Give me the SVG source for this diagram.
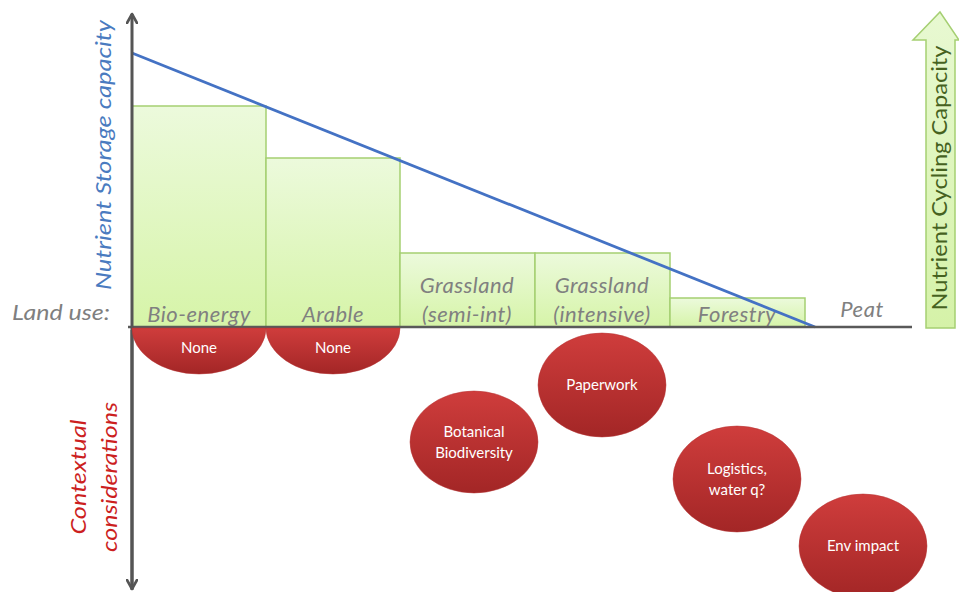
<svg xmlns="http://www.w3.org/2000/svg" width="959" height="592" viewBox="0 0 959 592">
<defs>
<linearGradient id="gg" x1="0" y1="0" x2="0" y2="1">
<stop offset="0" stop-color="#ecfadc"/>
<stop offset="1" stop-color="#d6f4a8"/>
</linearGradient>
<linearGradient id="rg" x1="0" y1="0" x2="0" y2="1">
<stop offset="0" stop-color="#cf3d3c"/>
<stop offset="1" stop-color="#a32626"/>
</linearGradient>
<linearGradient id="ag" x1="0" y1="0" x2="0" y2="1">
<stop offset="0" stop-color="#e8f9d2"/>
<stop offset="1" stop-color="#d5f2a8"/>
</linearGradient>
<marker id="ah" viewBox="0 0 12 12" refX="10" refY="6" markerWidth="12" markerHeight="12" markerUnits="userSpaceOnUse" orient="auto">
<path d="M1,1 L10,6 L1,11" fill="none" stroke="#555" stroke-width="2.6" stroke-linecap="round" stroke-linejoin="round"/>
</marker>
</defs>
<style>
.bar{fill:url(#gg);stroke:#a5cf72;stroke-width:1.5}
.red{fill:url(#rg);stroke:#b53030;stroke-width:0.5}
.lbl{font-family:Lato,"Open Sans",sans-serif;font-style:italic;font-size:22px;letter-spacing:0.5px;fill:#808080;text-anchor:middle}
.wt{font-family:Lato,"Open Sans",sans-serif;font-size:15px;fill:#ffffff;text-anchor:middle}
.ctx{font-family:Lato,"Open Sans",sans-serif;font-style:italic;font-size:21px;fill:#cc1f1f;text-anchor:middle}
</style>
<rect width="959" height="592" fill="#ffffff"/>

<g id="bars">
<g id="bio-energy"><rect class="bar" x="132" y="106" width="134" height="221"/><text class="lbl" x="199" y="322">Bio-energy</text></g>
<g id="arable"><rect class="bar" x="266" y="158" width="134" height="169"/><text class="lbl" x="333" y="322">Arable</text></g>
<g id="grassland-semi"><rect class="bar" x="400" y="253" width="135" height="74"/><text class="lbl" x="467" y="293">Grassland</text><text class="lbl" x="467" y="322">(semi-int)</text></g>
<g id="grassland-int"><rect class="bar" x="535" y="253" width="135" height="74"/><text class="lbl" x="602" y="293">Grassland</text><text class="lbl" x="602" y="322">(intensive)</text></g>
<g id="forestry"><rect class="bar" x="670" y="298" width="135" height="29"/><text class="lbl" x="737" y="322">Forestry</text></g>
<g id="peat"><text class="lbl" x="862" y="317">Peat</text></g>
</g>

<g id="connectors">
<line x1="132" y1="53" x2="815" y2="327" stroke="#4472c4" stroke-width="2.8"/>
<line x1="128" y1="327" x2="912" y2="327" stroke="#595959" stroke-width="2.5"/>
<line x1="132" y1="590" x2="132" y2="14" stroke="#555" stroke-width="3" marker-end="url(#ah)"/>
<line x1="132" y1="330" x2="132" y2="589" stroke="#555" stroke-width="3" marker-end="url(#ah)"/>
</g>

<g id="none-bio"><path class="red" d="M132,328 A67,46 0 0 0 266,328 Z"/><text class="wt" x="199" y="353" font-size="14">None</text></g>
<g id="none-arable"><path class="red" d="M266,328 A67,46 0 0 0 400,328 Z"/><text class="wt" x="333" y="353" font-size="14">None</text></g>

<g id="paperwork"><ellipse class="red" cx="602" cy="385" rx="64" ry="52"/><text class="wt" x="602" y="390">Paperwork</text></g>
<g id="botanical"><ellipse class="red" cx="474" cy="442" rx="64" ry="51"/><text class="wt" x="474" y="437">Botanical</text><text class="wt" x="474" y="458">Biodiversity</text></g>
<g id="logistics"><ellipse class="red" cx="737" cy="479" rx="64" ry="53"/><text class="wt" x="737" y="474">Logistics,</text><text class="wt" x="737" y="495">water q?</text></g>
<g id="env"><ellipse class="red" cx="863" cy="546" rx="64" ry="52"/><text class="wt" x="863" y="551">Env impact</text></g>

<g id="cycling-arrow">
<path d="M926,328 L955,328 L955,40 L959,40 L940,12 L913,40 L926,40 Z" fill="url(#ag)" stroke="#a5cf72" stroke-width="1.5"/>
<text transform="translate(947,178) rotate(-90)" font-family="Lato,'Open Sans',sans-serif" font-size="21" fill="#46621f" text-anchor="middle" textLength="265" lengthAdjust="spacingAndGlyphs">Nutrient Cycling Capacity</text>
</g>

<g id="axis-labels">
<text transform="translate(111,155) rotate(-90)" font-family="Lato,'Open Sans',sans-serif" font-style="italic" font-size="21" fill="#4a7bc0" text-anchor="middle" textLength="270" lengthAdjust="spacingAndGlyphs">Nutrient Storage capacity</text>
<text x="12" y="320" font-family="Lato,'Open Sans',sans-serif" font-style="italic" font-size="22" fill="#7f7f7f" textLength="98" lengthAdjust="spacingAndGlyphs">Land use:</text>
<text class="ctx" transform="translate(86,477) rotate(-90)" textLength="115" lengthAdjust="spacingAndGlyphs">Contextual</text>
<text class="ctx" transform="translate(117,477) rotate(-90)" textLength="150" lengthAdjust="spacingAndGlyphs">considerations</text>
</g>
</svg>
